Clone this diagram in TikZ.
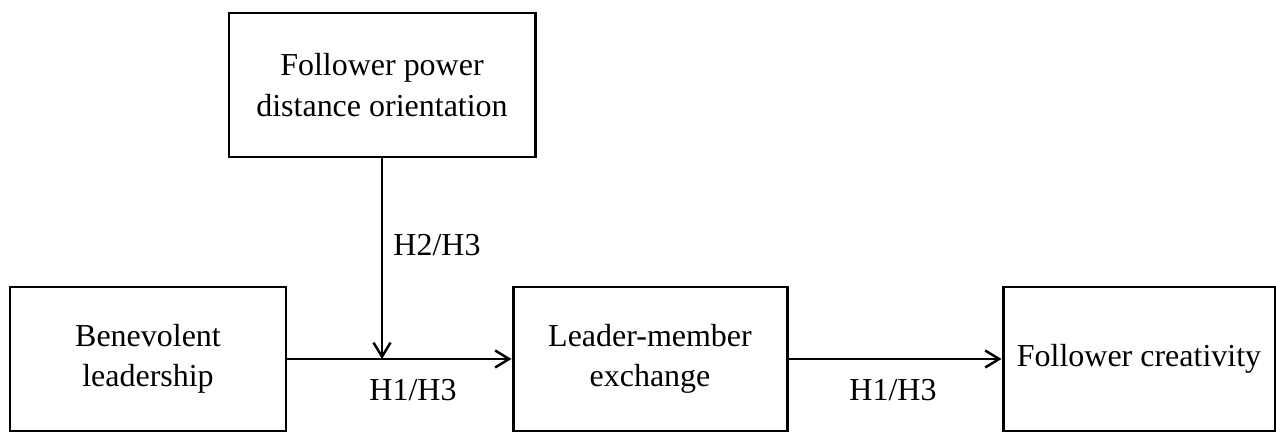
\documentclass[tikz,border=0pt]{standalone}
\usepackage{fontspec}
\setmainfont{Liberation Serif}
\usetikzlibrary{arrows.meta,positioning}

\begin{document}
\begin{tikzpicture}[font=\fontsize{18.2}{23}\selectfont,b/.style={draw,line width=1.7pt,align=center,minimum height=2.88cm},a/.style={-{Straight Barb[length=2.8mm,width=3.4mm,line width=1.4pt]},line width=1.2pt}]
\useasboundingbox (0,0) rectangle (25.52,8.66);
\node[b,minimum width=6.12cm] (p) at (7.64,6.96) {Follower power\\distance orientation};
\node[b,minimum width=5.52cm] (bl) at (2.96,1.48) {Benevolent\\leadership};
\node[b,minimum width=5.48cm] (lmx) at (13,1.48) {Leader-member\\exchange};
\node[b,minimum width=5.44cm] (fc) at (22.78,1.48) {Follower creativity};
\coordinate (j) at (p.south |- bl.east);
\draw[a] (bl)--(lmx);\draw[a] (lmx)--(fc);\draw[a] (p)--(j);
\node (h23) at (8.74,3.76) {H2/H3};
\node (h13a) at (8.26,0.86) {H1/H3};
\node (h13b) at (17.86,0.86) {H1/H3};
\end{tikzpicture}
\end{document}
